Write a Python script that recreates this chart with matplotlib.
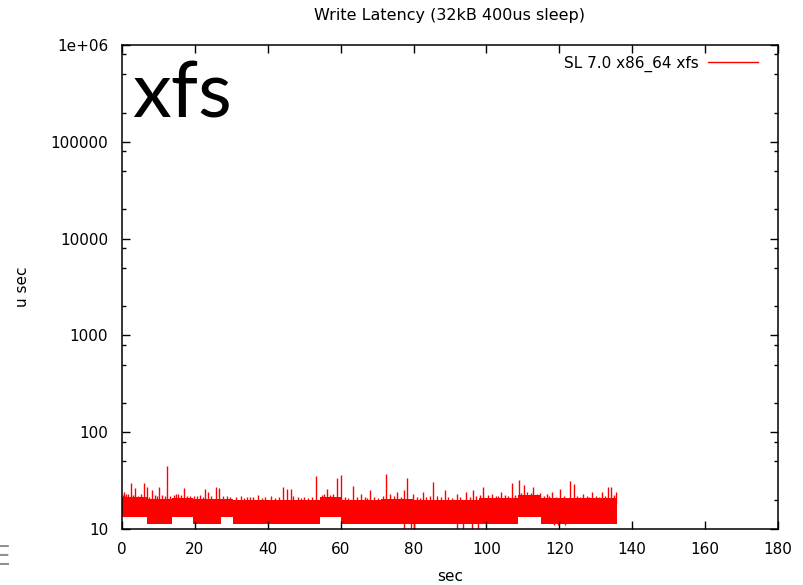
import matplotlib
matplotlib.use("Agg")
import matplotlib.pyplot as plt
import numpy as np
from matplotlib.ticker import NullFormatter, FixedLocator

# band of the bulk latency samples: interval edges (sec), low and high (usec)
band_edges = [0, 6.8, 13.6, 19.4, 27.2, 30.5, 40, 54.3, 60.1, 71, 80, 98, 108.7, 115, 135.8]
band_low = [13.2, 11.2, 13.2, 11.2, 13.2, 11.2, 11.2, 13.2, 11.2, 11.2, 11.2, 11.2, 13.2, 11.2]
band_high = [21.5, 20.5, 21, 20.5, 20.5, 20, 19.8, 21.5, 20, 20.5, 20, 21, 22.5, 20.8]

# upward spikes (sec, usec)
spike_x = [0.5, 1.2, 2.4, 3.7, 6.1, 6.9, 8.2, 10.2, 12.4, 13.2, 15.5, 17.1, 18.7, 20.5,
           22.8, 23.7, 25.7, 26.6, 28.9, 32.6, 35.0, 37.2, 41.0, 44.3, 45.2, 46.3, 47.0,
           50.0, 53.2, 56.2, 59.1, 60.0, 63.3, 65.5, 68.0, 72.4, 73.5, 75.5, 77.4, 78.1,
           79.8, 82.5, 85.4, 88.6, 91.8, 94.5, 96.2, 99.1, 101.5, 104.0, 106.9, 108.8,
           110.3, 112.9, 116.5, 118.0, 120.2, 122.9, 123.9, 126.5, 129.0, 131.6, 133.4,
           134.2, 135.5]
spike_y = [24, 23, 30, 26.5, 30, 27, 25, 27, 45, 22, 23, 26.7, 22, 22,
           26, 24, 27, 26.7, 22, 22, 21.5, 22.5, 22, 27.3, 26, 26, 22,
           21.5, 35, 26, 33.5, 36, 28, 23, 25.5, 37, 23, 24, 25, 34,
           23, 24, 30.3, 25, 23, 24, 25, 27, 23, 24, 29.7, 32,
           28.5, 27, 23, 24, 26, 31, 29, 23, 24, 24, 27,
           27, 24]

# short fringe samples just above the band (sec, usec)
fringe_x = [0.2, 0.9, 1.7, 3.0, 4.4, 5.2, 7.5, 9.1, 9.7, 11.0, 11.8, 14.2, 14.9, 16.3,
            17.8, 19.8, 21.3, 22.1, 24.5, 27.6, 29.7, 31.2, 33.5, 34.3, 36.0, 38.4,
            39.3, 42.0, 43.2, 48.2, 49.1, 51.0, 52.2, 54.8, 55.5, 57.2, 58.0, 61.2,
            62.1, 64.4, 66.6, 67.2, 69.1, 70.3, 71.6, 74.5, 76.5, 80.9, 81.7, 83.5,
            84.5, 86.3, 87.4, 89.5, 90.6, 92.8, 95.4, 97.2, 98.2, 100.3, 102.5, 103.3,
            105.0, 105.9, 107.8, 109.6, 111.2, 112.1, 113.8, 114.6, 115.7, 117.2,
            119.2, 121.2, 124.8, 125.6, 127.5, 128.2, 130.0, 130.8, 132.5, 135.0]
fringe_y = [22.5, 22, 23, 22.5, 22, 23, 21.5, 22.5, 22, 22.5, 22, 22.5, 23, 22.5,
            22, 22, 22.5, 21.5, 22, 22, 21.5, 21.5, 21, 21.5, 21.5, 21,
            21.5, 21, 21.5, 21.5, 21, 21, 21.5, 22.5, 23, 22.5, 23, 21.5,
            21, 21.5, 21.5, 21, 21.5, 21, 22, 22, 21.5, 21.5, 21, 21.5,
            22, 22, 21.5, 21.5, 21, 21.5, 21.5, 22, 22.5, 22.5, 22, 22,
            22.5, 22, 22.5, 23.5, 24, 23.5, 23, 23.5, 22, 22,
            21.5, 22, 22, 21.5, 22, 21.5, 22, 21.5, 22, 22.5]

# downward dips (sec, usec)
dip_x = [77.4, 79.3, 80.2, 91.8, 93.6, 96.1, 97.7, 118.5, 119.5, 121.5]
dip_y = [9.0, 9.0, 9.0, 9.0, 9.0, 9.0, 9.0, 10.9, 10.9, 10.9]

x_ticks = [0, 20, 40, 60, 80, 100, 120, 140, 160, 180]
y_ticks = [10, 100, 1000, 10000, 100000, 1000000]
y_labels = ["10", "100", "1000", "10000", "100000", "1e+06"]

plt.rcParams['font.family'] = ['DejaVu Sans']

fig = plt.figure(figsize=(8.04, 5.85), dpi=100)
ax = fig.add_axes([122 / 804, 1 - 529 / 585, (778 - 122) / 804, (529 - 45) / 585])

ax.set_yscale('log')
ax.set_xlim(0, 180)
ax.set_ylim(10, 1e6)

lows = band_low + [band_low[-1]]
highs = band_high + [band_high[-1]]
ax.fill_between(band_edges, lows, highs, step='post', color='#ff0000', linewidth=0)


def base_of(xs):
    i = np.clip(np.searchsorted(band_edges, xs, side='right') - 1, 0, len(band_low) - 1)
    return np.array(band_low)[i], np.array(band_high)[i]


lo, hi = base_of(fringe_x)
ax.vlines(fringe_x, hi * 0.9, fringe_y, color='#ff0000', linewidth=1.0)
lo, hi = base_of(spike_x)
ax.vlines(spike_x, hi * 0.9, spike_y, color='#ff0000', linewidth=1.0)
lo, hi = base_of(dip_x)
ax.vlines(dip_x, dip_y, hi * 0.9, color='#ff0000', linewidth=1.0)

# legend entry
ax.plot([], [], color='#ff0000', linewidth=1.0, label='SL 7.0 x86_64 xfs')
ax.legend(loc='upper right', bbox_to_anchor=(0.986, 1.0), frameon=False,
          markerfirst=False, fontsize=11, handlelength=3.3, borderaxespad=0.3,
          handletextpad=0.6)

ax.set_xticks(x_ticks)
ax.set_yticks(y_ticks)
ax.set_yticklabels(y_labels)
minor = [m * 10 ** e for e in range(1, 6) for m in (2, 5, 8)]
ax.yaxis.set_minor_locator(FixedLocator(minor))
ax.yaxis.set_minor_formatter(NullFormatter())

ax.tick_params(which='major', direction='in', length=6, width=1, top=True, right=True,
               labelsize=11, pad=10, colors='black')
ax.tick_params(which='minor', direction='in', length=3, width=1, top=True, right=True)
ax.tick_params(axis='x', which='major', pad=9)
for s in ax.spines.values():
    s.set_linewidth(1.1)
    s.set_color('black')

ax.set_title('Write Latency (32kB 400us sleep)', fontsize=11.5, pad=18)
ax.set_xlabel('sec', fontsize=11, labelpad=9)
ax.set_ylabel('u sec', fontsize=11, labelpad=15)

fig.text(132 / 804, 1 - 117 / 585, 'xfs', fontsize=56, family='Lato',
         ha='left', va='baseline')

# stray grey glyph at the lower left edge
fig.text(-0.008, 1 - 565 / 585, 'E', fontsize=19, color='#909090', ha='left', va='baseline')

fig.savefig('out.png', dpi=100)
